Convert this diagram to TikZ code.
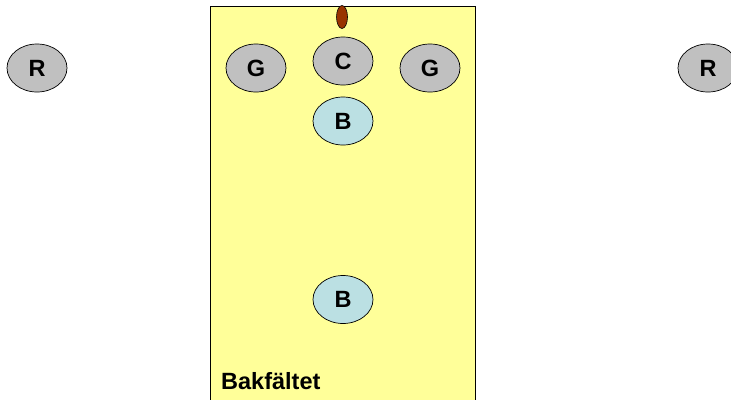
\documentclass[tikz,border=0pt]{standalone}
\usepackage{fontspec}
\setmainfont{Liberation Sans}
\usetikzlibrary{shapes.geometric}
\definecolor{fieldyellow}{HTML}{FFFF99}
\definecolor{playergray}{HTML}{C0C0C0}
\definecolor{playerblue}{HTML}{BBE0E3}
\definecolor{ballbrown}{HTML}{993300}
\tikzset{
  player/.style={ellipse, draw=black, line width=0.7pt, fill=playergray, minimum width=60pt, minimum height=48pt, inner sep=0pt, font=\fontsize{23.5}{23.5}\selectfont\bfseries},
  blueplayer/.style={player, fill=playerblue},
}
\begin{document}
\begin{tikzpicture}[x=1pt,y=-1pt]
\useasboundingbox (0,0) rectangle (731,399);
\clip (0,0) rectangle (731,399);
\fill[white] (0,0) rectangle (731,399);
\node[draw=black, line width=0.7pt, fill=fieldyellow, minimum width=265pt, minimum height=410pt, anchor=north west, inner sep=0pt] (field) at (210,6) {};
\node[ellipse, draw=black, line width=0.6pt, fill=ballbrown, minimum width=11pt, minimum height=23pt, inner sep=0pt] (ball) at (342,17) {};
\node[player] (rl) at (37,68) {R};
\node[player] (gl) at (256,68) {G};
\node[player] (c) at (343,61) {C};
\node[player] (gr) at (430,68) {G};
\node[player] (rr) at (708,68) {R};
\node[blueplayer] (b1) at (343,121) {B};
\node[blueplayer] (b2) at (343,299.5) {B};
\node[anchor=base west, inner sep=0pt, font=\fontsize{23.5}{23.5}\selectfont\bfseries] (label) at (221,389) {Bakfältet};
\end{tikzpicture}
\end{document}
